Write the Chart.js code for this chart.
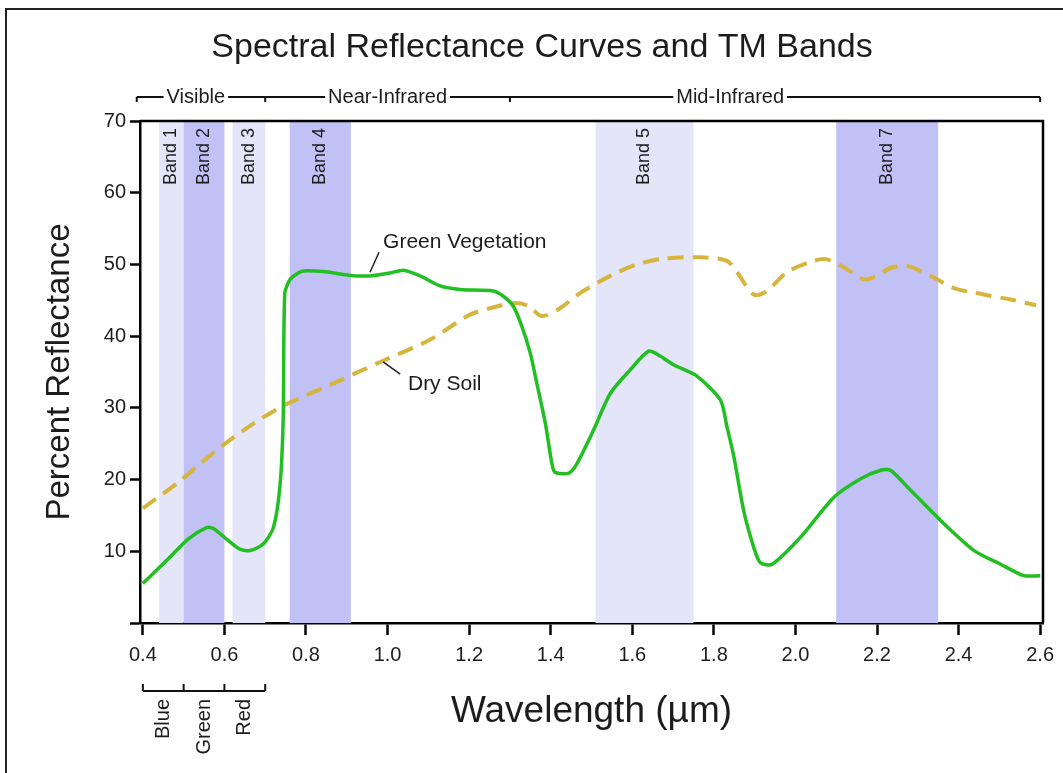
<!DOCTYPE html>
<html><head><meta charset="utf-8">
<script src="https://cdn.jsdelivr.net/npm/chart.js@4.4.0/dist/chart.umd.min.js"></script>
<style>html,body{margin:0;padding:0;background:#fff;}canvas{display:block}</style>
</head><body>
<canvas id="c" width="1063" height="773"></canvas>
<script>
// ---- data ----
const xTicks = [0.4, 0.6, 0.8, 1.0, 1.2, 1.4, 1.6, 1.8, 2.0, 2.2, 2.4, 2.6];
const yTicks = [0, 10, 20, 30, 40, 50, 60, 70];

const vegX = [0.40, 0.458, 0.511, 0.556, 0.572, 0.605, 0.638, 0.663, 0.695, 0.720, 0.736, 0.744, 0.748, 0.761, 0.781, 0.793, 0.842, 0.891, 0.924, 0.957, 1.006, 1.039, 1.080, 1.129, 1.178, 1.259, 1.283, 1.308, 1.329, 1.350, 1.366, 1.387, 1.403, 1.411, 1.444, 1.464, 1.505, 1.546, 1.595, 1.640, 1.669, 1.701, 1.759, 1.816, 1.832, 1.849, 1.873, 1.898, 1.914, 1.943, 2.013, 2.094, 2.160, 2.209, 2.233, 2.274, 2.356, 2.438, 2.503, 2.560, 2.600];
const vegY = [5.5, 8.7, 11.7, 13.3, 13.2, 11.7, 10.3, 10.1, 11.0, 13.3, 19.0, 28.3, 46.0, 47.9, 48.8, 49.1, 49.0, 48.6, 48.4, 48.4, 48.8, 49.2, 48.4, 47.0, 46.5, 46.3, 45.6, 44.2, 41.4, 37.6, 33.4, 27.8, 22.2, 21.0, 20.9, 22.2, 26.9, 32.0, 35.3, 37.9, 37.2, 36.0, 34.4, 31.1, 27.4, 23.2, 15.7, 10.5, 8.4, 8.2, 12.0, 17.5, 20.1, 21.3, 21.3, 19.0, 14.3, 10.1, 8.2, 6.6, 6.6];

const soilX = [0.40, 0.487, 0.540, 0.597, 0.671, 0.748, 0.859, 0.982, 1.104, 1.202, 1.252, 1.309, 1.346, 1.378, 1.423, 1.472, 1.546, 1.611, 1.677, 1.767, 1.832, 1.857, 1.898, 1.930, 1.979, 2.045, 2.078, 2.127, 2.168, 2.200, 2.233, 2.274, 2.331, 2.389, 2.462, 2.528, 2.590];
const soilY = [16.0, 19.6, 22.2, 24.8, 27.8, 30.4, 33.2, 36.4, 39.5, 43.0, 43.9, 44.6, 44.2, 42.8, 43.9, 46.0, 48.4, 50.0, 50.8, 51.0, 50.5, 48.9, 45.8, 46.3, 48.9, 50.5, 50.7, 49.3, 47.9, 48.4, 49.5, 49.8, 48.4, 46.7, 45.8, 45.1, 44.3];

const bandNames = ['Band 1', 'Band 2', 'Band 3', 'Band 4', 'Band 5', 'Band 7'];
const bandStart = [0.44, 0.50, 0.62, 0.76, 1.51, 2.10];
const bandEnd   = [0.50, 0.60, 0.70, 0.91, 1.75, 2.35];
const bandShade = ['light', 'dark', 'light', 'dark', 'light', 'dark'];

const regionNames = ['Visible', 'Near-Infrared', 'Mid-Infrared'];
const regionBounds = [0.385, 0.70, 1.30, 2.60];
const regionLabelAt = [0.53, 1.00, 1.84];

const colorNames = ['Blue', 'Green', 'Red'];
const colorBounds = [0.4, 0.5, 0.6, 0.7];

// ---- styling / drawing ----
const FONT = '"Liberation Sans", Arial, Helvetica, sans-serif';
const INK = '#1c1c1c';

const decor = {
  id: 'decor',
  beforeDatasetsDraw(chart) {
    const {ctx, chartArea: a, scales: {x}} = chart;
    ctx.save();
    bandNames.forEach((n, i) => {
      const x0 = x.getPixelForValue(bandStart[i]), x1 = x.getPixelForValue(bandEnd[i]);
      ctx.fillStyle = bandShade[i] === 'dark' ? '#c1c1f6' : '#e5e5f9';
      ctx.fillRect(x0, a.top, x1 - x0, a.bottom - a.top);
    });
    ctx.fillStyle = INK;
    ctx.font = '18px ' + FONT;
    bandNames.forEach((n, i) => {
      const cx = (x.getPixelForValue(bandStart[i]) + x.getPixelForValue(bandEnd[i])) / 2;
      ctx.save();
      ctx.translate(cx, a.top + 7);
      ctx.rotate(-Math.PI / 2);
      ctx.textAlign = 'right';
      ctx.textBaseline = 'middle';
      ctx.fillText(n, 0, 0);
      ctx.restore();
    });
    ctx.restore();
  },
  afterDraw(chart) {
    const {ctx, chartArea: a, scales: {x, y}} = chart;
    ctx.save();
    ctx.strokeStyle = '#000';
    ctx.lineCap = 'butt';
    // plot frame (top and right)
    ctx.lineWidth = 2.5;
    ctx.beginPath();
    ctx.moveTo(a.left, a.top);
    ctx.lineTo(a.right, a.top);
    ctx.lineTo(a.right, a.bottom);
    ctx.stroke();

    // outer picture frame
    ctx.lineWidth = 2;
    ctx.strokeStyle = '#222';
    ctx.beginPath();
    ctx.moveTo(6, 773);
    ctx.lineTo(6, 9);
    ctx.lineTo(1063, 9);
    ctx.stroke();

    // title
    ctx.fillStyle = INK;
    ctx.font = '34px ' + FONT;
    ctx.textAlign = 'center';
    ctx.textBaseline = 'middle';
    ctx.fillText('Spectral Reflectance Curves and TM Bands', 542, 48);

    // spectral region bracket
    const by = 97;
    ctx.font = '20px ' + FONT;
    ctx.strokeStyle = '#111';
    ctx.lineWidth = 2;
    regionNames.forEach((n, i) => {
      const x0 = x.getPixelForValue(regionBounds[i]);
      const x1 = x.getPixelForValue(regionBounds[i + 1]);
      const lx = x.getPixelForValue(regionLabelAt[i]);
      const w = ctx.measureText(n).width;
      ctx.beginPath();
      ctx.moveTo(x0, by); ctx.lineTo(lx - w / 2 - 3, by);
      ctx.moveTo(lx + w / 2 + 3, by); ctx.lineTo(x1, by);
      ctx.stroke();
      ctx.fillText(n, lx, by);
    });
    regionBounds.forEach(v => {
      const px = x.getPixelForValue(v);
      ctx.beginPath(); ctx.moveTo(px, by); ctx.lineTo(px, by + 5); ctx.stroke();
    });

    // visible colour bracket below axis
    const cy = 691;
    ctx.beginPath();
    ctx.moveTo(x.getPixelForValue(colorBounds[0]), cy);
    ctx.lineTo(x.getPixelForValue(colorBounds[colorBounds.length - 1]), cy);
    ctx.stroke();
    colorBounds.forEach(v => {
      const px = x.getPixelForValue(v);
      ctx.beginPath(); ctx.moveTo(px, cy); ctx.lineTo(px, cy - 7); ctx.stroke();
    });
    colorNames.forEach((n, i) => {
      const cx = (x.getPixelForValue(colorBounds[i]) + x.getPixelForValue(colorBounds[i + 1])) / 2;
      ctx.save();
      ctx.translate(cx, cy + 8);
      ctx.rotate(-Math.PI / 2);
      ctx.textAlign = 'right';
      ctx.textBaseline = 'middle';
      ctx.fillText(n, 0, 0);
      ctx.restore();
    });

    // curve annotations
    ctx.font = '21px ' + FONT;
    ctx.textAlign = 'left';
    ctx.textBaseline = 'middle';
    ctx.fillText('Green Vegetation', x.getPixelForValue(0.989), y.getPixelForValue(53.1));
    ctx.fillText('Dry Soil', x.getPixelForValue(1.05), y.getPixelForValue(33.3));
    ctx.lineWidth = 1.5;
    ctx.strokeStyle = '#222';
    ctx.beginPath();
    ctx.moveTo(x.getPixelForValue(0.957), y.getPixelForValue(48.9));
    ctx.lineTo(x.getPixelForValue(0.979), y.getPixelForValue(51.7));
    ctx.moveTo(x.getPixelForValue(0.989), y.getPixelForValue(36.4));
    ctx.lineTo(x.getPixelForValue(1.031), y.getPixelForValue(34.7));
    ctx.stroke();
    ctx.restore();
  }
};

const toPts = (xs, ys) => xs.map((v, i) => ({x: v, y: ys[i]}));

new Chart(document.getElementById('c'), {
  type: 'line',
  data: {
    datasets: [
      {label: 'Green Vegetation', data: toPts(vegX, vegY), borderColor: '#22bf22', borderWidth: 3.5, pointRadius: 0, tension: 0.25, fill: false},
      {label: 'Dry Soil', data: toPts(soilX, soilY), borderColor: '#d6b53c', borderWidth: 4, borderDash: [16, 9], pointRadius: 0, tension: 0.3, fill: false}
    ]
  },
  options: {
    responsive: false,
    animation: false,
    layout: {padding: {top: 121, right: 20, bottom: 0, left: 0}},
    plugins: {legend: {display: false}, tooltip: {enabled: false}, title: {display: false}},
    scales: {
      x: {
        type: 'linear', min: 0.393, max: 2.607,
        afterBuildTicks: s => { s.ticks = xTicks.map(v => ({value: v})); },
        afterFit: s => { s.height = 150; },
        grid: {display: true, drawOnChartArea: false, drawTicks: true, tickLength: 12, tickWidth: 2.5, tickColor: '#000'},
        border: {display: true, color: '#000', width: 2.5},
        ticks: {color: INK, font: {family: FONT, size: 20}, padding: 8, maxRotation: 0, autoSkip: false,
          callback: v => Number(v).toFixed(1)},
        title: {display: true, text: 'Wavelength (µm)', color: INK, font: {family: FONT, size: 37}, padding: {top: 0, bottom: 39}}
      },
      y: {
        type: 'linear', min: 0, max: 70,
        afterBuildTicks: s => { s.ticks = yTicks.map(v => ({value: v})); },
        afterFit: s => { s.width = 140; },
        grid: {display: true, drawOnChartArea: false, drawTicks: true, tickLength: 10, tickWidth: 2.5, tickColor: '#000'},
        border: {display: true, color: '#000', width: 2.5},
        ticks: {color: INK, font: {family: FONT, size: 20}, padding: 4, autoSkip: false,
          callback: v => (v === 0 ? '' : String(v))},
        title: {display: true, text: 'Percent Reflectance', color: INK, font: {family: FONT, size: 33}, padding: {top: 40, bottom: 0}}
      }
    }
  },
  plugins: [decor]
});
</script>
</body></html>
